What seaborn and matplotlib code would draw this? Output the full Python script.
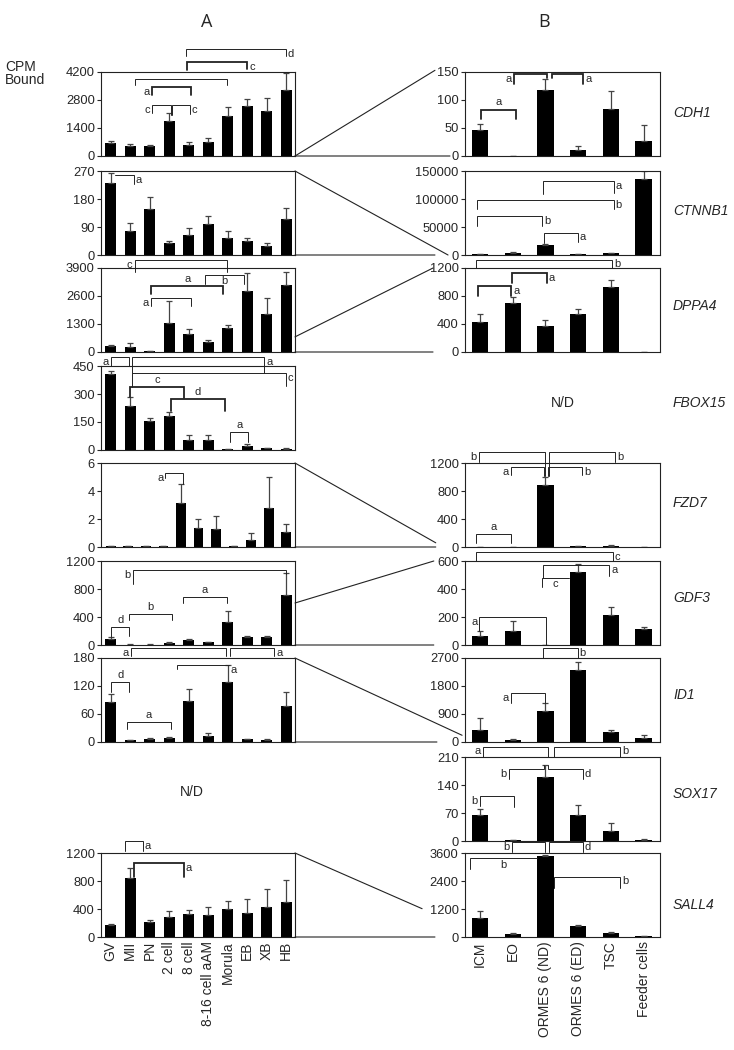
import numpy as np
import matplotlib
matplotlib.use("Agg")
import matplotlib.pyplot as plt
from matplotlib.patches import ConnectionPatch
import seaborn as sns

# ---- data (CPM bound, bar value and upper error) ----
stages = ['GV', 'MII', 'PN', '2 cell', '8 cell', '8-16 cell aAM', 'Morula', 'EB', 'XB', 'HB']
cells = ['ICM', 'EO', 'ORMES 6 (ND)', 'ORMES 6 (ED)', 'TSC', 'Feeder cells']
genes = ['CDH1', 'CTNNB1', 'DPPA4', 'FBOX15', 'FZD7', 'GDF3', 'ID1', 'SOX17', 'SALL4']

# panel A (embryo stages)
a_cdh1 = [640, 500, 500, 1740, 570, 690, 2010, 2510, 2260, 3300]
a_cdh1_err = [130, 100, 35, 400, 115, 200, 430, 335, 640, 850]
a_ctnnb1 = [230, 77, 149, 37, 64, 99, 56, 44, 29, 117]
a_ctnnb1_err = [32, 27, 38, 8, 23, 26, 20, 11, 9, 35]
a_dppa4 = [281, 234, 31, 1326, 842, 452, 1092, 2839, 1763, 3104]
a_dppa4_err = [31, 203, 16, 1030, 203, 94, 172, 811, 764, 624]
a_fbox15 = [409, 238, 153, 180, 52, 52, 4, 20, 9, 5]
a_fbox15_err = [16, 45, 18, 25, 29, 29, 3, 11, 4, 4]
# FZD7 row in panel A has 11 bars spread over the same width
a_fzd7_pos = [0, 0.9, 1.8, 2.7, 3.6, 4.5, 5.4, 6.3, 7.2, 8.1, 9.0]
a_fzd7 = [0.05, 0.05, 0.05, 0.05, 3.16, 1.33, 1.29, 0.05, 0.5, 2.76, 1.05]
a_fzd7_err = [0, 0, 0, 0, 1.31, 0.67, 0.92, 0, 0.48, 2.24, 0.59]
a_gdf3 = [82, 5, 5, 29, 72, 43, 333, 116, 121, 708]
a_gdf3_err = [34, 3, 3, 7, 8, 5, 159, 14, 14, 314]
a_id1 = [85, 3.6, 6.4, 7.9, 87, 12, 129, 6, 5, 77]
a_id1_err = [18, 1, 3, 2, 26, 7, 37, 1, 1, 31]
a_sall4 = [175, 840, 216, 288, 331, 317, 394, 350, 432, 504]
a_sall4_err = [10, 144, 34, 86, 53, 105, 124, 188, 250, 312]

# panel B (cell types)
b_cdh1 = [46.7, 0.5, 118, 10, 84.7, 27.4]
b_cdh1_err = [11, 0, 20, 8.7, 32, 28]
b_ctnnb1 = [1000, 3000, 17800, 1000, 3000, 135000]
b_ctnnb1_err = [0, 1700, 1800, 0, 1000, 15000]
b_dppa4 = [427, 706, 370, 547, 931, 2]
b_dppa4_err = [120, 81, 86, 72, 101, 0]
b_fzd7 = [5, 3, 880, 10, 15, 3]
b_fzd7_err = [0, 0, 125, 10, 10, 0]
b_gdf3 = [67, 98, 2, 521, 215, 115]
b_gdf3_err = [36, 76, 0, 60, 60, 16]
b_id1 = [400, 54, 994, 2322, 324, 130]
b_id1_err = [356, 54, 248, 248, 76, 97]
b_sox17 = [66, 1.5, 160, 66, 25, 3.4]
b_sox17_err = [14, 0, 30, 24, 19, 0.6]
b_sall4 = [826, 145, 3452, 464, 189, 29]
b_sall4_err = [305, 44, 43, 29, 43, 0]

a_ticks = {'CDH1': [0, 1400, 2800, 4200], 'CTNNB1': [0, 90, 180, 270],
           'DPPA4': [0, 1300, 2600, 3900], 'FBOX15': [0, 150, 300, 450],
           'FZD7': [0, 2, 4, 6], 'GDF3': [0, 400, 800, 1200],
           'ID1': [0, 60, 120, 180], 'SALL4': [0, 400, 800, 1200]}
b_ticks = {'CDH1': [0, 50, 100, 150], 'CTNNB1': [0, 50000, 100000, 150000],
           'DPPA4': [0, 400, 800, 1200], 'FZD7': [0, 400, 800, 1200],
           'GDF3': [0, 200, 400, 600], 'ID1': [0, 900, 1800, 2700],
           'SOX17': [0, 70, 140, 210], 'SALL4': [0, 1200, 2400, 3600]}

a_data = {'CDH1': (a_cdh1, a_cdh1_err), 'CTNNB1': (a_ctnnb1, a_ctnnb1_err),
          'DPPA4': (a_dppa4, a_dppa4_err), 'FBOX15': (a_fbox15, a_fbox15_err),
          'FZD7': (a_fzd7, a_fzd7_err), 'GDF3': (a_gdf3, a_gdf3_err),
          'ID1': (a_id1, a_id1_err), 'SALL4': (a_sall4, a_sall4_err)}
b_data = {'CDH1': (b_cdh1, b_cdh1_err), 'CTNNB1': (b_ctnnb1, b_ctnnb1_err),
          'DPPA4': (b_dppa4, b_dppa4_err), 'FZD7': (b_fzd7, b_fzd7_err),
          'GDF3': (b_gdf3, b_gdf3_err), 'ID1': (b_id1, b_id1_err),
          'SOX17': (b_sox17, b_sox17_err), 'SALL4': (b_sall4, b_sall4_err)}

# significance brackets: x1, x2 (bar index units), y, left leg end, right leg end (axes fraction), letter, label side, thick
a_brackets = {
    'CDH1': [(3.87, 8.97, 1.274, 1.19, 1.19, 'd', 'r', 0),
             (3.92, 7.0, 1.123, 1.02, 1.03, 'c', 'r', 1),
             (1.22, 5.94, 0.917, 0.845, 0.845, '', 'r', 0),
             (2.12, 4.12, 0.825, 0.726, 0.726, 'a', 'l', 1),
             (2.12, 3.07, 0.607, 0.51, 0.488, 'c', 'l', 0),
             (3.15, 4.05, 0.607, 0.488, 0.5, 'c', 'r', 0)],
    'CTNNB1': [(0.23, 1.17, 0.949, 0.949, 0.843, 'a', 'r', 0)],
    'DPPA4': [(1.22, 5.97, 1.092, 0.956, 0.956, 'c', 'l', 0),
              (4.81, 6.83, 0.917, 0.813, 0.813, 'b', 'cb', 0),
              (2.08, 5.77, 0.786, 0.687, 0.687, 'a', 'c', 1),
              (2.08, 4.12, 0.646, 0.548, 0.548, 'a', 'l', 0)],
    'FBOX15': [(0.01, 0.92, 1.107, 1.0, 1.0, 'a', 'l', 0),
               (1.09, 7.86, 1.107, 0.913, 0.913, 'a', 'r', 0),
               (1.09, 8.97, 0.913, 0.754, 0.762, 'c', 'r', 0),
               (1.0, 3.78, 0.754, 0.63, 0.623, 'c', 'c', 1),
               (3.1, 5.84, 0.603, 0.464, 0.464, 'd', 'c', 1),
               (6.14, 7.03, 0.214, 0.1, 0.09, 'a', 'c', 0)],
    'FZD7': [(2.8, 3.69, 0.885, 0.818, 0.746, 'a', 'l', 0)],
    'GDF3': [(1.12, 8.97, 0.889, 0.722, 0.841, 'b', 'l', 0),
             (3.71, 5.94, 0.575, 0.504, 0.504, 'a', 'c', 0),
             (0.92, 3.15, 0.365, 0.298, 0.298, 'b', 'c', 0),
             (0.03, 0.95, 0.218, 0.1, 0.11, 'd', 'c', 0)],
    'ID1': [(1.05, 5.89, 1.115, 1.027, 1.027, 'a', 'l', 0),
            (6.14, 8.37, 1.115, 1.027, 1.027, 'a', 'r', 0),
            (3.4, 6.06, 0.92, 0.869, 0.92, 'a', 'r', 0),
            (0.03, 0.95, 0.718, 0.599, 0.599, 'd', 'c', 0),
            (0.83, 3.1, 0.234, 0.155, 0.155, 'a', 'c', 0)],
    'SALL4': [(0.71, 1.64, 1.143, 1.027, 1.027, 'a', 'r', 0),
              (1.17, 3.74, 0.877, 0.71, 0.71, 'a', 'r', 1)],
}
b_brackets = {
    'CDH1': [(1.04, 2.04, 0.976, 0.86, 0.93, 'a', 'l', 1),
             (2.19, 3.16, 0.976, 0.93, 0.86, 'a', 'r', 1),
             (0.03, 1.09, 0.553, 0.443, 0.443, 'a', 'c', 1)],
    'CTNNB1': [(1.92, 4.08, 0.879, 0.729, 0.74, 'a', 'r', 0),
               (-0.1, 4.08, 0.659, 0.545, 0.55, 'b', 'r', 0),
               (-0.1, 1.9, 0.467, 0.345, 0.345, 'b', 'r', 0),
               (1.96, 2.99, 0.267, 0.141, 0.16, 'a', 'r', 0)],
    'DPPA4': [(-0.13, 4.04, 1.1, 1.0, 1.0, 'b', 'r', 0),
              (0.97, 2.04, 0.94, 0.827, 0.827, 'a', 'r', 1),
              (-0.07, 0.95, 0.78, 0.667, 0.667, 'a', 'r', 1)],
    'FZD7': [(-0.03, 1.97, 1.127, 1.008, 0.84, 'b', 'l', 0),
             (2.12, 4.13, 1.127, 0.84, 1.008, 'b', 'r', 0),
             (0.94, 1.96, 0.949, 0.857, 0.84, 'a', 'l', 0),
             (2.09, 3.13, 0.949, 0.84, 0.857, 'b', 'r', 0),
             (-0.12, 0.95, 0.151, 0.044, 0.044, 'a', 'c', 0)],
    'GDF3': [(-0.12, 4.05, 1.105, 1.0, 1.0, 'c', 'r', 0),
             (1.92, 3.95, 0.952, 0.8, 0.82, 'a', 'r', 0),
             (1.9, 2.72, 0.8, 0.69, 0.8, 'c', 'cb', 0),
             (-0.02, 2.01, 0.337, 0.169, 0.0, 'a', 'l', 0)],
    'ID1': [(1.92, 2.98, 1.115, 1.0, 1.0, 'b', 'r', 0),
            (0.95, 1.99, 0.587, 0.468, 0.46, 'a', 'l', 0)],
    'SOX17': [(0.08, 2.09, 1.124, 0.996, 0.996, 'a', 'l', 0),
              (2.25, 4.28, 1.124, 0.996, 0.996, 'b', 'r', 0),
              (0.87, 1.94, 0.852, 0.735, 0.9, 'b', 'l', 0),
              (2.09, 3.14, 0.852, 0.9, 0.735, 'd', 'r', 0),
              (0.0, 1.05, 0.53, 0.42, 0.40, 'b', 'l', 0)],
    'SALL4': [(0.97, 1.99, 1.129, 1.016, 1.016, 'b', 'l', 0),
              (2.12, 3.14, 1.129, 1.016, 1.016, 'd', 'r', 0),
              (-0.31, 1.73, 0.936, 0.807, 0.936, 'b', 'cb', 0),
              (2.27, 4.28, 0.719, 0.586, 0.586, 'b', 'r', 0)],
}

# ---- layout (pixels) ----
W, H = 734, 1050
row_top = [72, 171, 268, 366, 463, 561, 658, 757, 853]
AX_H = 84
A_LEFT, A_W = 101, 194
B_LEFT, B_W = 465, 195
gene_label_y = [113, 211, 306, 403, 503, 598, 695, 794, 905]

sns.set_style('white')
plt.rcParams['font.family'] = ['Liberation Sans', 'DejaVu Sans']

fig = plt.figure(figsize=(W / 100, H / 100), dpi=100)


def add_ax(left, top, w):
    return fig.add_axes([left / W, 1 - (top + AX_H) / H, w / W, AX_H / H])


def bracket(ax, x1, x2, y, yl, yr, label, side, thick):
    tr = ax.get_xaxis_transform()
    ax.plot([x1, x1, x2, x2], [yl, y, y, yr], transform=tr, color='#222',
            lw=1.3 if thick else 0.7, clip_on=False, solid_joinstyle='miter')
    kw = dict(xycoords=tr, textcoords='offset points', fontsize=8)
    if side == 'l':
        ax.annotate(label, (x1, y), xytext=(-1.5, -3.5), ha='right', va='center', **kw)
    elif side == 'r':
        ax.annotate(label, (x2, y), xytext=(1.5, -3.5), ha='left', va='center', **kw)
    elif side == 'c':
        ax.annotate(label, ((x1 + x2) / 2, y), xytext=(0, 1.5), ha='center', va='bottom', **kw)
    else:
        ax.annotate(label, ((x1 + x2) / 2, y), xytext=(0, -1), ha='center', va='top', **kw)


def draw_panel(ax, pos, vals, errs, ticks, width, xlim, brackets):
    ax.autoscale(False)
    sns.barplot(x=pos, y=vals, native_scale=True, color='black', saturation=1,
                width=width, linewidth=0, errorbar=None, ax=ax)
    ax.errorbar(pos, vals, yerr=[np.zeros(len(errs)), errs], fmt='none',
                ecolor='#444', elinewidth=0.9, capsize=2.4, capthick=0.9)
    for b in brackets:
        bracket(ax, *b)
    ax.set_xlim(*xlim)
    ax.set_ylim(0, ticks[-1])
    ax.set_yticks(ticks)
    ax.set_yticklabels([str(t) for t in ticks])
    ax.set_xticks([])
    ax.set_xlabel('')
    ax.set_ylabel('')
    for s in ax.spines.values():
        s.set_visible(True)
        s.set_linewidth(0.8)
        s.set_color('#222')
    ax.tick_params(axis='y', direction='out', length=3, width=0.8,
                   labelsize=9.3, pad=1.5, left=True)
    ax.patch.set_alpha(0)


axes_a, axes_b = {}, {}
for i, g in enumerate(genes):
    if g in a_data:
        ax = add_ax(A_LEFT, row_top[i], A_W)
        vals, errs = a_data[g]
        pos = a_fzd7_pos if g == 'FZD7' else list(range(len(stages)))
        draw_panel(ax, pos, vals, errs, a_ticks[g], 0.55, (-0.5, 9.45), a_brackets[g])
        axes_a[g] = ax
    if g in b_data:
        ax = add_ax(B_LEFT, row_top[i], B_W)
        vals, errs = b_data[g]
        draw_panel(ax, list(range(len(cells))), vals, errs, b_ticks[g], 0.5,
                   (-0.46, 5.5), b_brackets[g])
        axes_b[g] = ax
    fig.text(673 / W, 1 - gene_label_y[i] / H, g, style='italic', fontsize=10,
             ha='left', va='center')

# category labels on the bottom row
for ax, labels in [(axes_a['SALL4'], stages), (axes_b['SALL4'], cells)]:
    ax.set_xticks(range(len(labels)))
    ax.set_xticklabels(labels, rotation=90, fontsize=10, va='top')
    ax.tick_params(axis='x', length=0, pad=3)

# zoom lines joining panel A to panel B
connections = [('CDH1', 0, -0.154, 1.02), ('CDH1', 0, -0.077, 0),
               ('CTNNB1', 1, -0.087, 0.0), ('CTNNB1', 0, -0.154, 0.0),
               ('DPPA4', 0.18, -0.164, 1.0), ('DPPA4', 0, -0.164, 0),
               ('FZD7', 1, -0.15, 0.05), ('FZD7', 0, -0.15, 0),
               ('GDF3', 0.5, -0.16, 1.0), ('GDF3', 0, -0.16, 0),
               ('ID1', 1, -0.015, 0.08), ('ID1', 0, -0.144, 0),
               ('SALL4', 1, -0.22, 0.337), ('SALL4', 0, -0.154, 0)]
for g, ya, xb, yb in connections:
    con = ConnectionPatch(xyA=(1, ya), coordsA=axes_a[g].transAxes,
                          xyB=(xb, yb), coordsB=axes_b[g].transAxes,
                          color='#222', lw=0.8)
    fig.add_artist(con)

fig.text(207 / W, 1 - 22 / H, 'A', fontsize=13, ha='center', va='center', family=['Open Sans', 'DejaVu Sans'])
fig.text(544 / W, 1 - 22 / H, 'B', fontsize=13, ha='center', va='center', family=['Open Sans', 'DejaVu Sans'])
fig.text(5 / W, 1 - 73.5 / H, 'CPM\nBound', fontsize=10, ha='left', va='center', linespacing=0.95)
fig.text(192 / W, 1 - 792 / H, 'N/D', fontsize=10, ha='center', va='center')
fig.text(563 / W, 1 - 403 / H, 'N/D', fontsize=10, ha='center', va='center')

fig.savefig('out.png', dpi=100)
